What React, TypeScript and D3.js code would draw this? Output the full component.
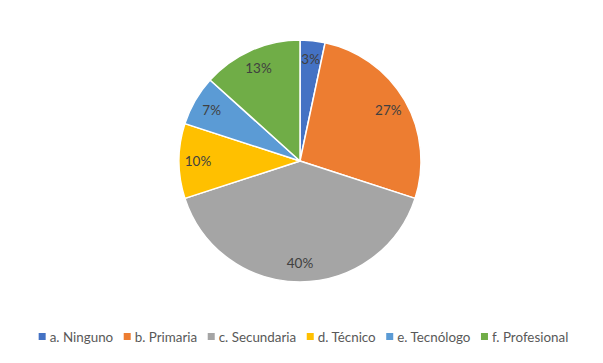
import React, { useEffect, useRef } from "react";
import * as d3 from "d3";

const categories = ["a. Ninguno", "b. Primaria", "c. Secundaria", "d. Técnico", "e. Tecnólogo", "f. Profesional"];
const counts = [1, 8, 12, 3, 2, 4];
const colors = ["#4472C4", "#ED7D31", "#A5A5A5", "#FFC000", "#5B9BD5", "#70AD47"];

const W = 603;
const H = 363;

export default function App() {
  const ref = useRef<SVGSVGElement | null>(null);

  useEffect(() => {
    const svg = d3.select(ref.current);
    svg.selectAll("*").remove();

    svg.append("rect")
      .attr("x", 0.5).attr("y", 0.5)
      .attr("width", W - 1).attr("height", H - 1)
      .attr("fill", "#fff").attr("stroke", "#D9D9D9");

    const cx = 300, cy = 161, r = 121;
    const data = categories.map((c, i) => ({ c, v: counts[i], col: colors[i] }));
    const total = d3.sum(counts);
    const pie = d3.pie<any>().value((d) => d.v).sort(null);
    const arcs = pie(data);
    const arc = d3.arc<any>().innerRadius(0).outerRadius(r);
    const labelArc = d3.arc<any>().innerRadius(102).outerRadius(102);

    const g = svg.append("g").attr("transform", `translate(${cx},${cy})`);
    g.selectAll("path").data(arcs).join("path")
      .attr("d", arc as any)
      .attr("fill", (d: any) => d.data.col)
      .attr("stroke", "#fff")
      .attr("stroke-width", 1.5)
      .attr("stroke-linejoin", "round");

    g.selectAll("text").data(arcs).join("text")
      .attr("transform", (d: any) => `translate(${labelArc.centroid(d)})`)
      .attr("text-anchor", "middle")
      .attr("dy", "0.35em")
      .attr("font-family", "Lato, 'Open Sans', sans-serif")
      .attr("font-size", 13.5)
      .attr("fill", "#404040")
      .text((d: any) => `${Math.round((d.data.v / total) * 100)}%`);

    // legend
    const lg = svg.append("g");
    const ly = 337;
    const sq = 7;
    const gapSqText = 4;
    const gapItems = 10.5;
    const items = lg.selectAll("g").data(data).join("g");
    items.append("rect").attr("width", sq).attr("height", sq).attr("y", ly - sq / 2 - 0.5).attr("fill", (d) => d.col);
    const texts = items.append("text")
      .attr("x", sq + gapSqText)
      .attr("y", ly)
      .attr("dy", "0.35em")
      .attr("font-family", "Lato, 'Open Sans', sans-serif")
      .attr("font-size", 13.4)
      .attr("fill", "#595959")
      .text((d) => d.c);
    const widths: number[] = [];
    texts.each(function () { widths.push((this as SVGTextElement).getComputedTextLength()); });
    const itemW = widths.map((w) => sq + gapSqText + w);
    const totalW = d3.sum(itemW) + gapItems * (itemW.length - 1);
    let x = W / 2 + 2 - totalW / 2;
    items.each(function (_d, i) {
      d3.select(this).attr("transform", `translate(${x},0)`);
      x += itemW[i] + gapItems;
    });
  }, []);

  return (
    <div style={{ margin: -8 }}>
      <svg ref={ref} width={W} height={H} style={{ display: "block" }} />
    </div>
  );
}
